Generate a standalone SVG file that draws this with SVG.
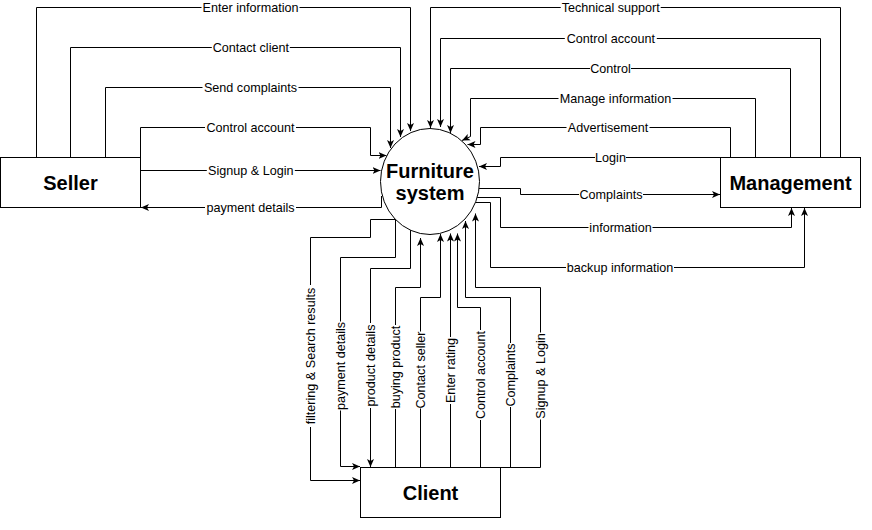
<svg xmlns="http://www.w3.org/2000/svg" width="872" height="530" viewBox="0 0 872 530">
<style>
.n{fill:#fff;stroke:#000;stroke-width:1}
.e{fill:none;stroke:#000;stroke-width:1;marker-end:url(#a)}
.l{font-family:"Liberation Sans",Arial,sans-serif;font-size:12.6px;fill:#000;text-anchor:middle}
.b{fill:#fff}
.t{font-family:"Liberation Sans",Arial,sans-serif;font-size:20px;font-weight:bold;fill:#000;text-anchor:middle}
</style>
<defs>
<marker id="a" viewBox="0 0 9 8" refX="8" refY="4" markerWidth="9" markerHeight="8" orient="auto" markerUnits="userSpaceOnUse">
<path d="M0,0.5 L8,4 L0,7.5 L2,4 Z" fill="#000"/>
</marker>
</defs>
<rect width="872" height="530" fill="#fff"/>
<g id="connectors">
<path class="e" d="M36.5,157.5 V7.5 H410.5 V131"/>
<path class="e" d="M70.5,157.5 V47.5 H400.5 V137"/>
<path class="e" d="M105.5,157.5 V87.5 H390.5 V148"/>
<path class="e" d="M140.5,157.5 V127.5 H370.5 V155.5 H386.5"/>
<path class="e" d="M140.5,170.5 H380.5"/>
<path class="e" d="M381.5,196 V207.5 H141"/>
<path class="e" d="M840.5,157.5 V7.5 H430.5 V128"/>
<path class="e" d="M820.5,157.5 V38.5 H440.5 V127"/>
<path class="e" d="M790.5,157.5 V68.5 H450.5 V133"/>
<path class="e" d="M755.5,157.5 V98.5 H470.5 V136.5 L462,140.5"/>
<path class="e" d="M730.5,157.5 V127.5 H480.5 V144.5 H467.5"/>
<path class="e" d="M720.5,157.5 H500.5 V166.5 H479"/>
<path class="e" d="M479,188.5 H520.5 V194.5 H720"/>
<path class="e" d="M477,197.5 H500.5 V227.5 H791.5 V208"/>
<path class="e" d="M475.5,202.5 H490.5 V267.5 H804.5 V208"/>
<path class="e" d="M395.5,219.5 H370.5 V237.5 H310.5 V480.5 H360"/>
<path class="e" d="M395.5,219.5 V257.5 H340.5 V466.5 H360"/>
<path class="e" d="M410.5,230 V268.5 H370.5 V467"/>
<path class="e" d="M395.5,467.5 V287.5 H420.5 V238"/>
<path class="e" d="M420.5,467.5 V297.5 H440.5 V234"/>
<path class="e" d="M450.5,467.5 V233.5"/>
<path class="e" d="M480.5,467.5 V307.5 H457.5 V233.5"/>
<path class="e" d="M500.5,467.5 H510.5 V297.5 H465.5 V221"/>
<path class="e" d="M500.5,467.5 H540.5 V287.5 H475.5 V213.5"/>
</g>
<g id="labels">
<rect class="b" x="201.5" y="0.5" width="98" height="14"/><text class="l" x="250.5" y="11.8">Enter information</text>
<rect class="b" x="211.8" y="40.5" width="78" height="14"/><text class="l" x="250.8" y="51.8">Contact client</text>
<rect class="b" x="202.5" y="80.5" width="96" height="14"/><text class="l" x="250.5" y="91.8">Send complaints</text>
<rect class="b" x="205" y="120.5" width="91" height="14"/><text class="l" x="250.5" y="131.8">Control account</text>
<rect class="b" x="206.8" y="163.5" width="88" height="14"/><text class="l" x="250.8" y="174.8">Signup &amp; Login</text>
<rect class="b" x="205" y="200.5" width="91" height="14"/><text class="l" x="250.5" y="211.8">payment details</text>
<rect class="b" x="560.7" y="0.5" width="100" height="14"/><text class="l" x="610.7" y="11.8">Technical support</text>
<rect class="b" x="564.8" y="31.5" width="92" height="14"/><text class="l" x="610.8" y="42.8">Control account</text>
<rect class="b" x="590" y="61.5" width="41" height="14"/><text class="l" x="610.5" y="72.8">Control</text>
<rect class="b" x="558.5" y="91.5" width="114" height="14"/><text class="l" x="615.5" y="102.8">Manage information</text>
<rect class="b" x="566.5" y="120.5" width="83" height="14"/><text class="l" x="608" y="131.8">Advertisement</text>
<rect class="b" x="595" y="150.5" width="31" height="14"/><text class="l" x="610.5" y="161.8">Login</text>
<rect class="b" x="579" y="187.5" width="64" height="14"/><text class="l" x="611" y="198.8">Complaints</text>
<rect class="b" x="588.5" y="220.5" width="64" height="14"/><text class="l" x="620.5" y="231.8">information</text>
<rect class="b" x="566" y="260.5" width="108" height="14"/><text class="l" x="620" y="271.8">backup information</text>
<rect class="b" x="303.5" y="285" width="14" height="142"/><text class="l" transform="translate(310.5,356) rotate(-90)" y="4.3">filtering &amp; Search results</text>
<rect class="b" x="333.5" y="321.5" width="14" height="89"/><text class="l" transform="translate(340.5,366) rotate(-90)" y="4.3">payment details</text>
<rect class="b" x="363.5" y="323" width="14" height="85"/><text class="l" transform="translate(370.5,365.5) rotate(-90)" y="4.3">product details</text>
<rect class="b" x="388.5" y="325" width="14" height="84"/><text class="l" transform="translate(395.5,367) rotate(-90)" y="4.3">buying product</text>
<rect class="b" x="413.5" y="331.5" width="14" height="77"/><text class="l" transform="translate(420.5,370) rotate(-90)" y="4.3">Contact seller</text>
<rect class="b" x="443.5" y="337" width="14" height="67"/><text class="l" transform="translate(450.5,370.5) rotate(-90)" y="4.3">Enter rating</text>
<rect class="b" x="473.5" y="330" width="14" height="90"/><text class="l" transform="translate(480.5,375) rotate(-90)" y="4.3">Control account</text>
<rect class="b" x="503.5" y="343" width="14" height="64"/><text class="l" transform="translate(510.5,375) rotate(-90)" y="4.3">Complaints</text>
<rect class="b" x="533.5" y="332.5" width="14" height="87"/><text class="l" transform="translate(540.5,376) rotate(-90)" y="4.3">Signup &amp; Login</text>
</g>
<g id="seller">
<rect class="n" x="0.5" y="157.5" width="140" height="50"/>
<text class="t" x="70.5" y="189.5">Seller</text>
</g>
<g id="management">
<rect class="n" x="720.5" y="157.5" width="140" height="50"/>
<text class="t" x="790.5" y="189.5">Management</text>
</g>
<g id="client">
<rect class="n" x="360.5" y="467.5" width="140" height="50"/>
<text class="t" x="430.5" y="499.5">Client</text>
</g>
<g id="furniture-system">
<ellipse class="n" cx="430" cy="181.5" rx="49.5" ry="53"/>
<text class="t" x="430" y="178">Furniture</text>
<text class="t" x="430" y="200">system</text>
</g>
</svg>
